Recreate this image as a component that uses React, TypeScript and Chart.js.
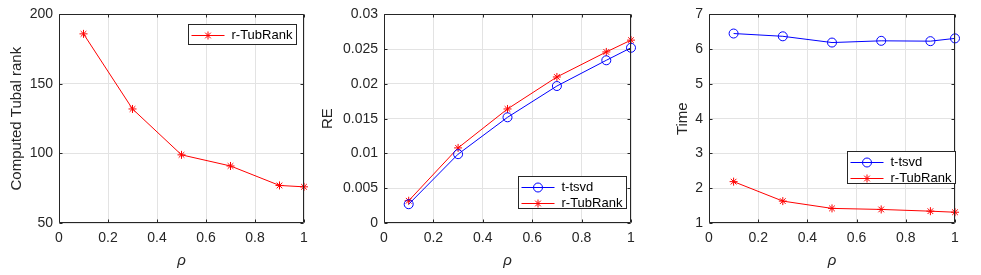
import React, { useEffect, useRef } from "react";
import { Chart, registerables } from "chart.js";
Chart.register(...registerables);

// ---- data ----
const rho = [0.1, 0.3, 0.5, 0.7, 0.9, 1.0];
const rankRTub = [186, 132, 99, 91, 77, 76];
const reTsvd = [0.0027, 0.0099, 0.0152, 0.0197, 0.0234, 0.0252];
const reRTub = [0.0032, 0.0108, 0.0164, 0.021, 0.0246, 0.0263];
const timeTsvd = [6.45, 6.37, 6.19, 6.24, 6.23, 6.31];
const timeRTub = [2.19, 1.63, 1.42, 1.39, 1.34, 1.31];

const xTicks = [0, 0.2, 0.4, 0.6, 0.8, 1];
const rankTicks = [50, 100, 150, 200];
const reTicks = [0, 0.005, 0.01, 0.015, 0.02, 0.025, 0.03];
const timeTicks = [1, 2, 3, 4, 5, 6, 7];

const FONT = '"Liberation Sans", Arial, Helvetica, sans-serif';
const AXC = "#262626";
const GRID = "#e3e3e3";
const RED = "#ff0000";
const BLUE = "#0000ff";

type Series = { label: string; values: number[]; color: string; marker: "circle" | "star" };
type LegendSpec = { right: number; top?: number; bottom?: number; w: number; h: number };

const tsvd = (v: number[]): Series => ({ label: "t-tsvd", values: v, color: BLUE, marker: "circle" });
const rtub = (v: number[]): Series => ({ label: "r-TubRank", values: v, color: RED, marker: "star" });

type Panel = {
  left: number;
  width: number;
  yWidth: number;
  padRight: number;
  yTitle: string;
  yTitlePad: number;
  yTicks: number[];
  series: Series[];
  legend: LegendSpec;
};

const panels: Panel[] = [
  {
    left: 0, width: 320, yWidth: 59, padRight: 16, yTitle: "Computed Tubal rank", yTitlePad: 7.7,
    yTicks: rankTicks, series: [rtub(rankRTub)], legend: { right: 8, top: 9.5, w: 108, h: 20 },
  },
  {
    left: 316, width: 334, yWidth: 68, padRight: 19, yTitle: "RE", yTitlePad: 2.7,
    yTicks: reTicks, series: [tsvd(reTsvd), rtub(reRTub)], legend: { right: 5, bottom: 15, w: 108, h: 32 },
  },
  {
    left: 650, width: 331, yWidth: 59, padRight: 26, yTitle: "Time", yTitlePad: 23.5,
    yTicks: timeTicks, series: [tsvd(timeTsvd), rtub(timeRTub)], legend: { right: 0, bottom: 40, w: 108, h: 32 },
  },
];

const fmt = (v: number) => String(Number(v.toFixed(4)));

function drawMarker(ctx: CanvasRenderingContext2D, marker: string, x: number, y: number, color: string) {
  ctx.save();
  ctx.strokeStyle = color;
  ctx.lineWidth = 1;
  ctx.beginPath();
  if (marker === "circle") {
    ctx.arc(x, y, 4.5, 0, Math.PI * 2);
  } else {
    const r = 4;
    for (let k = 0; k < 4; k++) {
      const a = (k * Math.PI) / 4;
      ctx.moveTo(x - r * Math.cos(a), y - r * Math.sin(a));
      ctx.lineTo(x + r * Math.cos(a), y + r * Math.sin(a));
    }
  }
  ctx.stroke();
  ctx.restore();
}

function makePlugin(p: Panel) {
  return {
    id: "matlabBox",
    afterDatasetsDraw(chart: any) {
      const ctx: CanvasRenderingContext2D = chart.ctx;
      const a = chart.chartArea;
      const L = Math.round(a.left) + 0.5;
      const R = Math.round(a.right) - 0.5;
      const T = Math.round(a.top) + 0.5;
      const B = Math.round(a.bottom) - 0.5;
      ctx.save();
      // inward ticks
      ctx.strokeStyle = AXC;
      ctx.lineWidth = 1;
      ctx.beginPath();
      const xs = chart.scales.x;
      const ys = chart.scales.y;
      const tl = 3;
      xs.ticks.forEach((t: any) => {
        const px = Math.round(xs.getPixelForValue(t.value)) + 0.5;
        ctx.moveTo(px, B);
        ctx.lineTo(px, B - tl);
        ctx.moveTo(px, T);
        ctx.lineTo(px, T + tl);
      });
      ys.ticks.forEach((t: any) => {
        const py = Math.round(ys.getPixelForValue(t.value)) + 0.5;
        ctx.moveTo(L, py);
        ctx.lineTo(L + tl, py);
        ctx.moveTo(R, py);
        ctx.lineTo(R - tl, py);
      });
      ctx.stroke();
      // box
      ctx.beginPath();
      ctx.rect(L, T, R - L, B - T);
      ctx.stroke();

      // legend
      const lg = p.legend;
      const bx = Math.round(a.right - lg.right - lg.w) + 0.5;
      const by =
        lg.top !== undefined
          ? Math.round(a.top + lg.top) + 0.5
          : Math.round(a.bottom - lg.bottom! - lg.h) + 0.5;
      ctx.fillStyle = "#ffffff";
      ctx.fillRect(bx, by, lg.w, lg.h);
      ctx.strokeStyle = AXC;
      ctx.strokeRect(bx, by, lg.w, lg.h);
      p.series.forEach((s, i) => {
        const cy = Math.round(by + 10 + 16 * i) + 0.5;
        ctx.strokeStyle = s.color;
        ctx.lineWidth = 1;
        ctx.beginPath();
        ctx.moveTo(bx + 3, cy);
        ctx.lineTo(bx + 36, cy);
        ctx.stroke();
        drawMarker(ctx, s.marker, bx + 19.5, cy, s.color);
        ctx.fillStyle = "#000000";
        ctx.font = `13px ${FONT}`;
        ctx.textBaseline = "middle";
        ctx.textAlign = "left";
        ctx.fillText(s.label, bx + 43, cy);
      });
      ctx.restore();
    },
  };
}

function PanelChart({ p }: { p: Panel }) {
  const ref = useRef<HTMLCanvasElement | null>(null);
  useEffect(() => {
    if (!ref.current) return;
    const chart = new Chart(ref.current, {
      type: "line",
      data: {
        datasets: p.series.map((s) => ({
          label: s.label,
          data: rho.map((x, i) => ({ x, y: s.values[i] })),
          borderColor: s.color,
          backgroundColor: "rgba(0,0,0,0)",
          borderWidth: 1,
          pointStyle: s.marker === "circle" ? "circle" : "star",
          pointRadius: s.marker === "circle" ? 4.5 : 4,
          pointBorderColor: s.color,
          pointBackgroundColor: "rgba(0,0,0,0)",
          pointBorderWidth: 1,
          tension: 0,
          clip: false as any,
        })),
      },
      options: {
        responsive: false,
        animation: false,
        devicePixelRatio: 1,
        layout: { padding: { top: 14, right: p.padRight, bottom: 0, left: 0 } },
        plugins: { legend: { display: false }, tooltip: { enabled: false } },
        events: [],
        scales: {
          x: {
            type: "linear",
            min: 0,
            max: 1,
            afterBuildTicks: (s: any) => {
              s.ticks = xTicks.map((v) => ({ value: v }));
            },
            afterFit: (s: any) => {
              s.height = 52;
            },
            grid: { color: GRID, lineWidth: 1, drawTicks: false },
            border: { display: false },
            ticks: {
              padding: 7,
              color: AXC,
              font: { family: FONT, size: 14 },
              maxRotation: 0,
              autoSkip: false,
              callback: (v: any) => fmt(Number(v)),
            },
            title: {
              display: true,
              text: "ρ",
              color: AXC,
              font: { family: FONT, size: 15, style: "italic" },
              padding: { top: 0, bottom: 5 },
            },
          },
          y: {
            type: "linear",
            min: p.yTicks[0],
            max: p.yTicks[p.yTicks.length - 1],
            afterBuildTicks: (s: any) => {
              s.ticks = p.yTicks.map((v) => ({ value: v }));
            },
            afterFit: (s: any) => {
              s.width = p.yWidth;
            },
            grid: { color: GRID, lineWidth: 1, drawTicks: false },
            border: { display: false },
            ticks: {
              padding: 6,
              color: AXC,
              font: { family: FONT, size: 14 },
              autoSkip: false,
              callback: (v: any) => fmt(Number(v)),
            },
            title: {
              display: true,
              text: p.yTitle,
              color: AXC,
              font: { family: FONT, size: 15 },
              padding: { top: p.yTitlePad, bottom: 0 },
            },
          },
        },
      },
      plugins: [makePlugin(p)],
    });
    return () => chart.destroy();
  }, [p]);
  return (
    <canvas
      ref={ref}
      width={p.width}
      height={275}
      style={{ position: "absolute", left: p.left, top: 0, width: p.width, height: 275 }}
    />
  );
}

export default function App() {
  return (
    <div style={{ position: "absolute", left: 0, top: 0, width: 981, height: 275, background: "#ffffff" }}>
      {panels.map((p, i) => (
        <PanelChart key={i} p={p} />
      ))}
    </div>
  );
}
